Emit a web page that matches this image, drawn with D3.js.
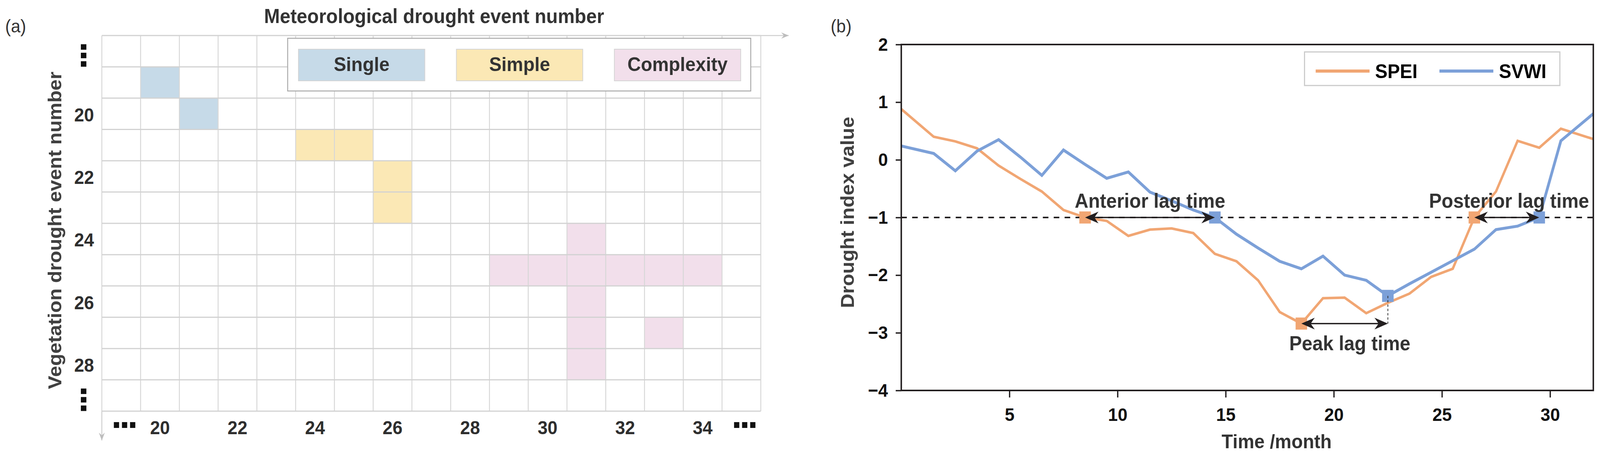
<!DOCTYPE html>
<html>
<head>
<meta charset="utf-8">
<script src="https://cdn.jsdelivr.net/npm/d3@7"></script>
<style>
  html, body { margin: 0; padding: 0; background: #fff; overflow: hidden; }
  svg { display: block; width: 100vw; height: 100vh; }
  text { font-family: Arial, "Liberation Sans", Helvetica, sans-serif; }
</style>
</head>
<body>
<svg id="chart" viewBox="0 0 4305 1173" preserveAspectRatio="none"></svg>
<script>
// ---------- panel (a) data ----------
// 19 / 35 and 18 / 29 stand for the "..." ends of each axis
const metEvents = [19, 20, 21, 22, 23, 24, 25, 26, 27, 28, 29, 30, 31, 32, 33, 34, 35];
const vegEvents = [18, 19, 20, 21, 22, 23, 24, 25, 26, 27, 28, 29];
const metTicks = [19, 20, 22, 24, 26, 28, 30, 32, 34, 35];
const vegTicks = [18, 20, 22, 24, 26, 28, 29];
const typeNames = ["Single", "Simple", "Complexity"];
const typeColors = ["#c6dae8", "#fbe8b5", "#f2dfeb"];
// [meteorological event, vegetation event]
const singleCells = [[20, 19], [21, 20]];
const simpleCells = [[24, 21], [25, 21], [26, 22], [26, 23]];
const complexCells = [[31, 24], [29, 25], [30, 25], [31, 25], [32, 25], [33, 25], [34, 25],
                      [31, 26], [31, 27], [33, 27], [31, 28]];

// ---------- panel (b) data ----------
const months = [0, 1.5, 2.5, 3.5, 4.5, 5.5, 6.5, 7.5, 8.5, 9.5, 10.5, 11.5, 12.5, 13.5, 14.5, 15.5,
                16.5, 17.5, 18.5, 19.5, 20.5, 21.5, 22.5, 23.5, 24.5, 25.5, 26.5, 27.5, 28.5, 29.5, 30.5, 32];
const spei = [0.88, 0.40, 0.32, 0.20, -0.10, -0.33, -0.55, -0.87, -1.00, -1.06, -1.32, -1.21, -1.19, -1.27, -1.63, -1.76,
              -2.09, -2.64, -2.84, -2.40, -2.39, -2.66, -2.48, -2.32, -2.03, -1.89, -1.00, -0.55, 0.33, 0.21, 0.54, 0.36];
const svwi = [0.24, 0.11, -0.19, 0.15, 0.35, 0.05, -0.27, 0.17, -0.08, -0.32, -0.21, -0.56, -0.71, -0.87, -1.00, -1.29,
              -1.53, -1.76, -1.89, -1.67, -2.00, -2.09, -2.36, -2.15, -1.95, -1.75, -1.55, -1.21, -1.15, -1.00, 0.33, 0.80];
const monthTicks = [5, 10, 15, 20, 25, 30];
const indexTicks = [-4, -3, -2, -1, 0, 1, 2];
const threshold = -1;
const seriesNames = ["SPEI", "SVWI"];
const seriesColors = ["#f1a673", "#7ca0d8"];
// lag periods: start month on SPEI, end month on SVWI
const lagNames = ["Anterior lag time", "Peak lag time", "Posterior lag time"];
const lagStart = [8.5, 18.5, 26.5];
const lagEnd = [14.5, 22.5, 29.5];

const svg = d3.select("#chart");

const defs = svg.append("defs");
defs.append("marker")
  .attr("id", "grayArrow")
  .attr("markerUnits", "userSpaceOnUse")
  .attr("viewBox", "-22 -9 24 18")
  .attr("markerWidth", 24).attr("markerHeight", 18)
  .attr("refX", 0).attr("refY", 0)
  .attr("orient", "auto")
  .append("path")
  .attr("d", "M0,0 L-20,-8 L-13,0 L-20,8 Z")
  .attr("fill", "#bdbdbd");

// ================= panel (a) =================
const xa = d3.scaleBand().domain(metEvents).range([274, 2047]);
const ya = d3.scaleBand().domain(vegEvents).range([91, 1053]);
const ga = svg.append("g");

[singleCells, simpleCells, complexCells].forEach((cells, i) => {
  ga.selectAll(".cell" + i)
    .data(cells)
    .enter().append("rect")
    .attr("class", "cell" + i)
    .attr("x", d => xa(d[0]))
    .attr("y", d => ya(d[1]))
    .attr("width", xa.bandwidth())
    .attr("height", ya.bandwidth())
    .attr("fill", typeColors[i]);
});

const xEdges = metEvents.map(d => xa(d)).concat([xa.range()[1]]);
const yEdges = vegEvents.map(d => ya(d)).concat([ya.range()[1]]);

ga.selectAll(".vgrid")
  .data(xEdges)
  .enter().append("line")
  .attr("x1", d => d).attr("x2", d => d)
  .attr("y1", ya.range()[0]).attr("y2", ya.range()[1])
  .attr("stroke", "#d7d7d7").attr("stroke-width", 2.5);

ga.selectAll(".hgrid")
  .data(yEdges)
  .enter().append("line")
  .attr("x1", xa.range()[0]).attr("x2", xa.range()[1])
  .attr("y1", d => d).attr("y2", d => d)
  .attr("stroke", "#d2d2d2").attr("stroke-width", 3);

// axis arrows continuing the grid edges
ga.append("line")
  .attr("x1", xa.range()[1]).attr("x2", 2122)
  .attr("y1", ya.range()[0]).attr("y2", ya.range()[0])
  .attr("stroke", "#cfcfcf").attr("stroke-width", 2.5)
  .attr("marker-end", "url(#grayArrow)");
ga.append("line")
  .attr("x1", xa.range()[0]).attr("x2", xa.range()[0])
  .attr("y1", ya.range()[1]).attr("y2", 1128)
  .attr("stroke", "#cfcfcf").attr("stroke-width", 2.5)
  .attr("marker-end", "url(#grayArrow)");

const isEndMet = d => d === metEvents[0] || d === metEvents[metEvents.length - 1];
const isEndVeg = d => d === vegEvents[0] || d === vegEvents[vegEvents.length - 1];

// bottom axis (meteorological event number)
const axA = ga.append("g")
  .attr("transform", "translate(0," + ya.range()[1] + ")")
  .call(d3.axisBottom(xa).tickValues(metTicks).tickSize(0).tickPadding(25)
    .tickFormat(d => isEndMet(d) ? "..." : d));
axA.select(".domain").remove();
axA.selectAll("text")
  .attr("font-size", 48).attr("font-weight", "bold").attr("fill", "#2e2e2e")
  .style("font-family", "Arial, 'Liberation Sans', sans-serif");
axA.selectAll(".tick").filter(d => isEndMet(d)).select("text")
  .attr("font-size", 100).attr("letter-spacing", -6)
  .attr("y", 43).attr("dy", 0).attr("dx", 6).attr("fill", "#111");

// left axis (vegetation event number)
const ayA = ga.append("g")
  .attr("transform", "translate(" + xa.range()[0] + ",0)")
  .call(d3.axisLeft(ya).tickValues(vegTicks).tickSize(0).tickPadding(21)
    .tickFormat(d => isEndVeg(d) ? "..." : d));
ayA.select(".domain").remove();
ayA.selectAll("text")
  .attr("font-size", 48).attr("font-weight", "bold").attr("fill", "#2e2e2e").attr("dy", "0.4em");
ayA.selectAll(".tick").filter(d => isEndVeg(d)).select("text")
  .attr("font-size", 100).attr("letter-spacing", -6).attr("fill", "#111")
  .attr("x", null).attr("dy", null)
  .attr("text-anchor", "middle")
  .attr("transform", "translate(-56,8) rotate(90)");

// legend (a)
const legA = ga.append("g");
legA.append("rect")
  .attr("x", 774).attr("y", 98).attr("width", 1246).attr("height", 135)
  .attr("fill", "#fff").attr("stroke", "#a8a8a8").attr("stroke-width", 2.5);
const legItems = legA.selectAll(".item")
  .data(typeNames)
  .enter().append("g")
  .attr("transform", (d, i) => "translate(" + (803 + i * 425) + ",126)");
legItems.append("rect")
  .attr("width", 340).attr("height", 81)
  .attr("fill", (d, i) => typeColors[i])
  .attr("stroke", "#d4d4d4").attr("stroke-width", 2);
legItems.append("text")
  .attr("x", 170).attr("y", 56)
  .attr("text-anchor", "middle")
  .attr("font-size", 50).attr("font-weight", "bold").attr("fill", "#333")
  .text(d => d);

// titles (a)
ga.append("text")
  .attr("x", 1168).attr("y", 59)
  .attr("text-anchor", "middle")
  .attr("font-size", 51).attr("font-weight", "bold").attr("fill", "#333")
  .text("Meteorological drought event number");
ga.append("text")
  .attr("transform", "translate(165,590) rotate(-90)")
  .attr("text-anchor", "middle")
  .attr("font-size", 51).attr("font-weight", "bold").attr("fill", "#404040")
  .text("Vegetation drought event number");
ga.append("text")
  .attr("x", 14).attr("y", 83)
  .attr("font-size", 46).attr("fill", "#333")
  .text("(a)");

// ================= panel (b) =================
const xb = d3.scaleLinear().domain([0, 32]).range([2425, 4287]);
const yb = d3.scaleLinear().domain([-4, 2]).range([1000, 114]);
const gb = svg.append("g");
const ink = "#231f20";

gb.append("text")
  .attr("x", 2235).attr("y", 83)
  .attr("font-size", 46).attr("fill", "#333")
  .text("(b)");

// threshold line
gb.append("line")
  .attr("x1", xb(0)).attr("x2", xb(32))
  .attr("y1", yb(threshold)).attr("y2", yb(threshold))
  .attr("stroke", ink).attr("stroke-width", 4)
  .attr("stroke-dasharray", "15,14.3");

// series
const line = d3.line().x((d, i) => xb(months[i])).y(d => yb(d));
[spei, svwi].forEach((vals, i) => {
  gb.append("path")
    .datum(vals)
    .attr("d", line)
    .attr("fill", "none")
    .attr("stroke", seriesColors[i])
    .attr("stroke-width", i === 0 ? 6.5 : 7.5)
    .attr("stroke-linejoin", "miter");
});

// frame + axes
gb.append("rect")
  .attr("x", xb(0)).attr("y", yb(2))
  .attr("width", xb(32) - xb(0)).attr("height", yb(-4) - yb(2))
  .attr("fill", "none").attr("stroke", ink).attr("stroke-width", 4);

const ayB = gb.append("g")
  .attr("transform", "translate(" + xb(0) + ",0)")
  .call(d3.axisLeft(yb).tickValues(indexTicks).tickSize(15).tickPadding(21)
    .tickFormat(d3.format("d")));
ayB.select(".domain").remove();
ayB.selectAll("line").attr("stroke", ink).attr("stroke-width", 3.5);
ayB.selectAll("text")
  .attr("font-size", 47).attr("font-weight", "bold").attr("fill", "#111");

const axB = gb.append("g")
  .attr("transform", "translate(0," + yb(-4) + ")")
  .call(d3.axisBottom(xb).tickValues(monthTicks).tickSize(18).tickPadding(27));
axB.select(".domain").remove();
axB.selectAll("line").attr("stroke", ink).attr("stroke-width", 3.5);
axB.selectAll("text")
  .attr("font-size", 47).attr("font-weight", "bold").attr("fill", "#111");

gb.append("text")
  .attr("x", 3435).attr("y", 1148)
  .attr("text-anchor", "middle")
  .attr("font-size", 50).attr("font-weight", "bold").attr("fill", "#333")
  .text("Time /month");
gb.append("text")
  .attr("transform", "translate(2298,544) rotate(-90)")
  .attr("text-anchor", "middle")
  .attr("font-size", 51).attr("font-weight", "bold").attr("fill", "#404040")
  .text("Drought index value");

// event markers
const valueAt = (vals, m) => vals[months.indexOf(m)];
const sq = 31;
gb.selectAll(".mk0")
  .data(lagStart)
  .enter().append("rect")
  .attr("x", d => xb(d) - sq / 2).attr("y", d => yb(valueAt(spei, d)) - sq / 2)
  .attr("width", sq).attr("height", sq)
  .attr("fill", seriesColors[0]);
gb.selectAll(".mk1")
  .data(lagEnd)
  .enter().append("rect")
  .attr("x", d => xb(d) - sq / 2).attr("y", d => yb(valueAt(svwi, d)) - sq / 2)
  .attr("width", sq).attr("height", sq)
  .attr("fill", seriesColors[1]);

// lag arrows
const head = (x, y, dir) =>
  "M" + x + "," + y +
  " L" + (x - dir * 36) + "," + (y - 15) +
  " L" + (x - dir * 25) + "," + y +
  " L" + (x - dir * 36) + "," + (y + 15) + " Z";

const labelOffsets = [[0, -25], [14, 68], [6, -25]];
lagNames.forEach((name, i) => {
  const x0 = xb(lagStart[i]);
  const x1 = xb(lagEnd[i]);
  const y = yb(valueAt(spei, lagStart[i]));
  if (i === 1) {
    gb.append("line")
      .attr("x1", x1).attr("x2", x1)
      .attr("y1", yb(valueAt(svwi, lagEnd[i]))).attr("y2", y)
      .attr("stroke", "#333").attr("stroke-width", 2)
      .attr("stroke-dasharray", "6,5");
  }
  gb.append("line")
    .attr("x1", x0 + 20).attr("x2", x1 - 20)
    .attr("y1", y).attr("y2", y)
    .attr("stroke", ink).attr("stroke-width", 3.5);
  gb.append("path").attr("d", head(x0, y, -1)).attr("fill", ink);
  gb.append("path").attr("d", head(x1, y, 1)).attr("fill", ink);
  gb.append("text")
    .attr("x", (x0 + x1) / 2 + labelOffsets[i][0])
    .attr("y", y + labelOffsets[i][1])
    .attr("text-anchor", "middle")
    .attr("font-size", 51).attr("font-weight", "bold").attr("fill", "#333")
    .text(name);
});

// legend (b)
const legB = gb.append("g");
legB.append("rect")
  .attr("x", 3510).attr("y", 133).attr("width", 687).attr("height", 86)
  .attr("fill", "#fff").attr("stroke", "#cbcbcb").attr("stroke-width", 3);
const legBItems = legB.selectAll(".item")
  .data(seriesNames)
  .enter().append("g")
  .attr("transform", (d, i) => "translate(" + (3540 + i * 333) + ",182)");
legBItems.append("line")
  .attr("x1", 0).attr("x2", 145)
  .attr("stroke", (d, i) => seriesColors[i])
  .attr("stroke-width", 8);
legBItems.append("text")
  .attr("x", 160).attr("y", 18)
  .attr("font-size", 50).attr("font-weight", "bold").attr("fill", "#000")
  .text(d => d);
</script>
</body>
</html>
